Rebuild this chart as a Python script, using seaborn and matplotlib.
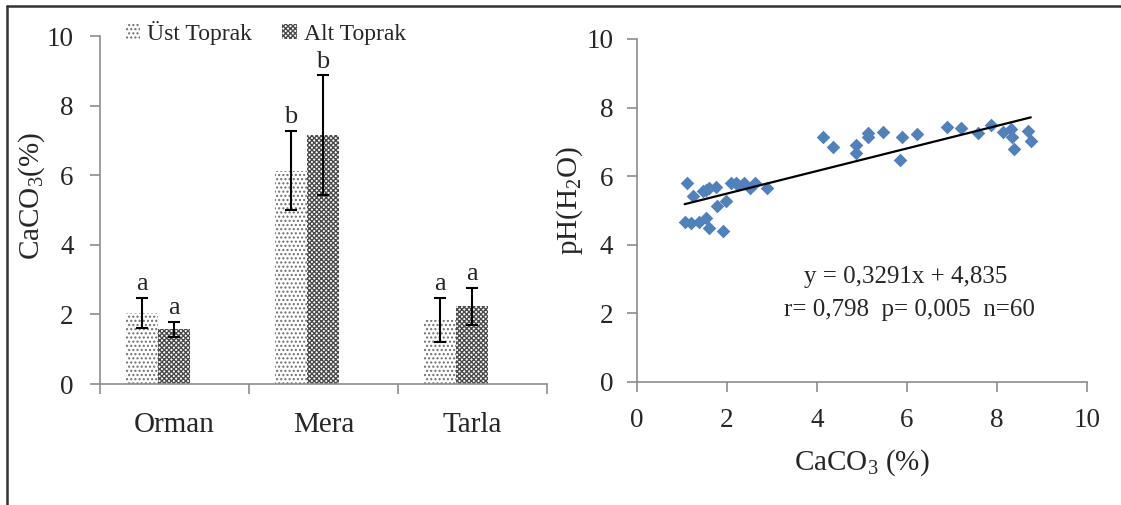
import numpy as np
import pandas as pd
import matplotlib
matplotlib.use("Agg")
import matplotlib.pyplot as plt
from matplotlib.patches import Patch
from matplotlib.lines import Line2D
import seaborn as sns

# ---------------- data ----------------
categories = ["Orman", "Mera", "Tarla"]
layers = ["Üst Toprak", "Alt Toprak"]
ust_mean = [2.04, 6.13, 1.85]
ust_err = [0.43, 1.14, 0.63]
alt_mean = [1.57, 7.15, 2.23]
alt_err = [0.22, 1.72, 0.53]
ust_letters = ["a", "b", "a"]
alt_letters = ["a", "b", "a"]

scatter_x = [1.12, 1.25, 1.47, 1.60, 1.75, 1.77, 1.97, 1.91, 1.06, 1.21, 1.38, 1.53,
             1.60, 2.10, 2.25, 2.37, 2.51, 2.62, 2.88, 1.54, 2.20,
             4.14, 4.35, 4.86, 4.86, 5.13, 5.13, 5.46, 5.89, 5.85, 6.22, 6.88,
             7.20, 7.57, 7.86, 8.14, 8.31, 8.34, 8.38, 8.68, 8.75]
scatter_y = [5.81, 5.42, 5.58, 5.65, 5.69, 5.13, 5.29, 4.41, 4.67, 4.64, 4.67, 4.77,
             4.48, 5.81, 5.74, 5.81, 5.65, 5.81, 5.65, 5.60, 5.80,
             7.14, 6.84, 6.91, 6.67, 7.25, 7.13, 7.30, 7.13, 6.47, 7.22, 7.43,
             7.40, 7.25, 7.50, 7.30, 7.37, 7.15, 6.78, 7.33, 7.04]
slope = 0.3291
intercept = 4.835
eq_text = "y = 0,3291x + 4,835"
stat_text = "r= 0,798  p= 0,005  n=60"

# ---------------- style ----------------
sns.set_theme(style="white")
plt.rcParams["font.family"] = ["Liberation Serif", "DejaVu Serif"]
plt.rcParams["mathtext.fontset"] = "custom"
plt.rcParams["mathtext.rm"] = "Liberation Serif"
plt.rcParams["mathtext.default"] = "regular"
plt.rcParams["hatch.linewidth"] = 1.0

spine_c = "#8c8c8c"
fig = plt.figure(figsize=(11.21, 5.05), dpi=100)
axL = fig.add_axes([0.0892, 0.2396, 0.3990, 0.6891])
axR = fig.add_axes([0.5682, 0.2436, 0.4015, 0.6792])

# ---------------- left: bar chart ----------------
df = pd.DataFrame({
    "cat": categories * 2,
    "layer": [layers[0]] * 3 + [layers[1]] * 3,
    "val": ust_mean + alt_mean,
})
sns.barplot(data=df, x="cat", y="val", hue="layer", order=categories,
            hue_order=layers, width=0.43, errorbar=None, ax=axL,
            palette=["white", "white"], legend=False)

hatch_styles = {layers[0]: ("....", "#6e6e6e"), layers[1]: ("xxxxxxx", "#4a4a4a")}
shift = -0.111
errs = ust_err + alt_err
lets = ust_letters + alt_letters
for i, p in enumerate(axL.patches[:6]):
    layer = layers[i // 3]
    h, c = hatch_styles[layer]
    p.set_x(p.get_x() + shift)
    p.set_hatch(h)
    p.set_edgecolor(c)
    p.set_linewidth(0)
    xc = p.get_x() + p.get_width() / 2
    top = p.get_height()
    axL.errorbar(xc, top, yerr=errs[i], color="black", capsize=4,
                 elinewidth=1.5, capthick=1.5, fmt="none")
    axL.annotate(lets[i], (xc, top + errs[i]), xytext=(0, 2),
                 textcoords="offset points", ha="center", va="bottom",
                 fontsize=19)

axL.set_xlim(-0.5, 2.5)
axL.set_ylim(0, 10)
axL.set_yticks(np.arange(0, 11, 2))
axL.set_xticks([-0.5, 0.5, 1.5, 2.5])
axL.set_xticklabels([])
axL.set_xticks([0, 1, 2], minor=True)
axL.set_xticklabels(categories, minor=True, fontsize=21)
axL.tick_params(axis="x", which="minor", length=0, pad=20)
axL.tick_params(axis="x", which="major", length=7, width=1.2, color=spine_c, direction="out", bottom=True)
axL.tick_params(axis="y", length=7, width=1.2, color=spine_c, direction="out", left=True, pad=12, labelsize=19.5)
axL.set_xlabel("")
axL.set_ylabel("CaCO$_3$(%)", fontsize=21)
axL.yaxis.set_label_coords(-0.118, 0.54)
for s in ["top", "right"]:
    axL.spines[s].set_visible(False)
for s in ["left", "bottom"]:
    axL.spines[s].set_color(spine_c)
    axL.spines[s].set_linewidth(1.2)

handles = [Patch(facecolor="white", edgecolor=hatch_styles[l][1], hatch=hatch_styles[l][0], lw=0, label=l)
           for l in layers]
axL.legend(handles=handles, loc="center left", bbox_to_anchor=(0.112, 0.935),
           bbox_transform=fig.transFigure, ncol=2, frameon=False, fontsize=17,
           handlelength=0.6, handleheight=0.6, handletextpad=0.3, columnspacing=1.3,
           borderpad=0, borderaxespad=0)

# ---------------- right: scatter ----------------
sdf = pd.DataFrame({"x": scatter_x, "y": scatter_y})
sns.scatterplot(data=sdf, x="x", y="y", marker="D", s=48, color="#4F81BD",
                linewidth=0, ax=axR, zorder=3)
xl = np.array([min(scatter_x), max(scatter_x)])
ldf = pd.DataFrame({"x": xl, "y": slope * xl + intercept})
sns.lineplot(data=ldf, x="x", y="y", color="black", linewidth=1.6, ax=axR, zorder=4)

axR.set_xlim(0, 10)
axR.set_ylim(0, 10)
axR.set_xticks(np.arange(0, 11, 2))
axR.set_yticks(np.arange(0, 11, 2))
axR.tick_params(axis="both", length=7, width=1.2, color=spine_c, direction="out",
                left=True, bottom=True, labelsize=19.5)
axR.tick_params(axis="x", pad=12)
axR.tick_params(axis="y", pad=10)
axR.set_xlabel("CaCO$_3$ (%)", fontsize=21, labelpad=10)
axR.set_ylabel("pH(H$_2$O)", fontsize=21)
axR.yaxis.set_label_coords(-0.115, 0.53)
for s in ["top", "right"]:
    axR.spines[s].set_visible(False)
for s in ["left", "bottom"]:
    axR.spines[s].set_color(spine_c)
    axR.spines[s].set_linewidth(1.2)
axR.text(0.598, 0.305, eq_text, transform=axR.transAxes, ha="center", va="center", fontsize=18)
axR.text(0.605, 0.21, stat_text, transform=axR.transAxes, ha="center", va="center", fontsize=18)

# ---------------- outer frame ----------------
fig.add_artist(Line2D([0.0062, 0.0062], [0.0, 0.988], transform=fig.transFigure,
                      color="#333333", linewidth=1.8))
fig.add_artist(Line2D([0.0062, 1.0], [0.988, 0.988], transform=fig.transFigure,
                      color="#333333", linewidth=1.8))

fig.savefig("out.png", dpi=100)
